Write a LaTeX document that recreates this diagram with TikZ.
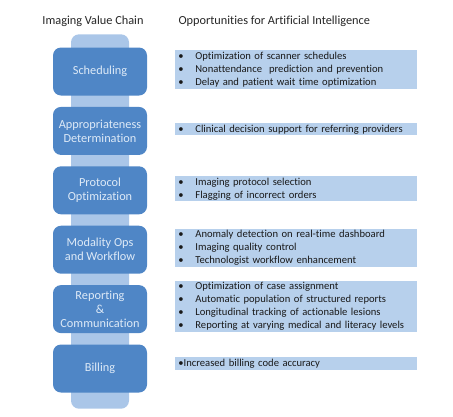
\documentclass[tikz,border=0pt]{standalone}
\usepackage{fontspec}
\setmainfont{Carlito}[Ligatures=NoCommon]
\usetikzlibrary{positioning,calc,backgrounds}

\definecolor{stageblue}{RGB}{79,134,198}
\definecolor{barblue}{RGB}{170,198,232}
\definecolor{oppblue}{RGB}{183,208,236}
\definecolor{stagetext}{RGB}{222,234,247}

\newcommand{\blt}{\makebox[17pt][l]{\textbullet}}

\begin{document}
\begin{tikzpicture}[
  x=1pt, y=1pt,
  stage/.style={fill=stageblue, rounded corners=8pt, align=center, text=stagetext,
    minimum width=94pt, minimum height=48pt, inner sep=2pt,
    font=\fontsize{12.3}{14}\selectfont},
  opp/.style={fill=oppblue, align=left, text=black!90, text width=236pt,
    inner xsep=3pt, inner ysep=1.5pt, anchor=west,
    font=\fontsize{10.6}{13}\selectfont},
  head/.style={font=\fontsize{12.3}{14}\selectfont, text=black!85},
  node distance=11pt
]
\useasboundingbox (0,0) rectangle (453,-416);

% value chain
\node[stage] (sched) at (100,-71.5) {Scheduling};
\node[stage, below=of sched] (approp) {Appropriateness\\Determination};
\node[stage, below=of approp] (proto) {Protocol\\Optimization};
\node[stage, below=of proto] (modal) {Modality Ops\\and Workflow};
\node[stage, below=of modal] (report) {Reporting\\\&\\Communication};
\node[stage, below=of report] (bill) {Billing};

% backbone behind the stages
\begin{scope}[on background layer]
\fill[barblue, rounded corners=8pt] ($(sched.north)+(-29,13)$) rectangle ($(bill.south)+(29,-16)$);
\end{scope}

% opportunities
\node[opp, right=28pt of sched, yshift=2pt] (o-sched)
  {\blt Optimization of scanner schedules\\
   \blt Nonattendance\ \ prediction and prevention\\
   \blt Delay and patient wait time optimization};
\node[opp, right=28pt of approp, yshift=1.5pt] (o-approp)
  {\blt Clinical decision support for referring providers};
\node[opp, right=28pt of proto, yshift=1.5pt] (o-proto)
  {\blt Imaging protocol selection\\
   \blt Flagging of incorrect orders};
\node[opp, right=28pt of modal, yshift=1.5pt] (o-modal)
  {\blt Anomaly detection on real-time dashboard\\
   \blt Imaging quality control\\
   \blt Technologist workflow enhancement};
\node[opp, right=28pt of report, yshift=3pt] (o-report)
  {\blt Optimization of case assignment\\
   \blt Automatic population of structured reports\\
   \blt Longitudinal tracking of actionable lesions\\
   \blt Reporting at varying medical and literacy levels};
\node[opp, right=28pt of bill, yshift=5pt] (o-bill)
  {\textbullet Increased billing code accuracy};

% headings
\node[head] (h-chain) at (93,-21) {Imaging Value Chain};
\node[head, anchor=west] (h-opp) at (175,-21) {Opportunities for Artificial Intelligence};

\end{tikzpicture}
\end{document}
